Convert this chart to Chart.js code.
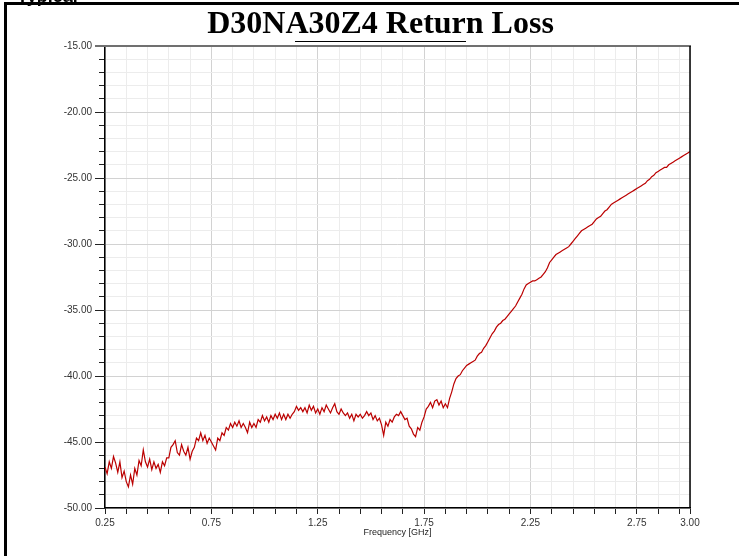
<!DOCTYPE html>
<html>
<head>
<meta charset="utf-8">
<script src="https://cdn.jsdelivr.net/npm/chart.js@4/dist/chart.umd.min.js"></script>
<style>
  html, body { margin: 0; padding: 0; background: #fff; }
  canvas { display: block; }
</style>
</head>
<body>
<canvas id="rlChart" width="739" height="556"></canvas>
<script>
// frequency grid of the sweep (GHz)
const freqStart = 0.25;
const freqStep = 0.01;

// return loss in dB, one value per 0.01 GHz from 0.25 to 3.00
const returnLossDb = [
  -46.9, -47.4, -46.5, -47.0, -46.1, -46.6, -47.3, -46.5, -47.7, -47.2,
  -48.0, -48.4, -47.5, -48.2, -47.0, -47.5, -46.4, -46.8, -45.6, -46.5,
  -46.9, -46.3, -47.1, -46.5, -47.0, -46.7, -47.3, -46.5, -46.8, -46.2,
  -46.2, -45.4, -45.2, -44.9, -45.8, -46.0, -45.2, -45.7, -46.0, -45.4,
  -46.3, -45.7, -45.4, -44.7, -44.9, -44.3, -44.9, -44.5, -45.1, -44.7,
  -45.0, -45.3, -45.6, -44.7, -44.9, -44.3, -44.5, -43.9, -44.1, -43.6,
  -43.9, -43.5, -43.8, -43.4, -43.9, -43.6, -43.9, -44.3, -43.5, -43.9,
  -43.6, -43.9, -43.3, -43.5, -43.0, -43.4, -43.1, -43.5, -43.0, -43.3,
  -42.9, -43.2, -42.8, -43.3, -42.9, -43.3, -42.9, -43.2, -42.9, -42.7,
  -42.3, -42.6, -42.4, -42.7, -42.4, -42.8, -42.2, -42.6, -42.3, -42.8,
  -42.5, -42.9, -42.4, -42.7, -42.2, -42.5, -42.8, -42.4, -42.1, -42.7,
  -42.9, -42.5, -42.8, -43.0, -42.8, -43.2, -42.9, -43.4, -42.9, -43.1,
  -42.9, -43.2, -43.0, -42.7, -43.0, -42.8, -43.3, -43.0, -43.4, -43.2,
  -43.7, -44.5, -43.5, -43.8, -43.3, -43.5, -43.1, -42.9, -43.0, -42.7,
  -43.0, -43.3, -43.2, -43.8, -44.0, -44.4, -44.6, -43.9, -44.1, -43.5,
  -43.1, -42.5, -42.3, -42.0, -42.4, -41.9, -41.8, -42.2, -41.9, -42.4,
  -42.1, -42.4, -41.7, -41.2, -40.6, -40.2, -40.0, -39.9, -39.6, -39.4,
  -39.2, -39.1, -39.0, -38.9, -38.8, -38.5, -38.3, -38.2, -37.9, -37.7,
  -37.4, -37.1, -36.8, -36.6, -36.3, -36.1, -36.0, -35.8, -35.7, -35.5,
  -35.3, -35.1, -34.9, -34.7, -34.4, -34.1, -33.8, -33.4, -33.1, -33.0,
  -32.9, -32.8, -32.8, -32.7, -32.6, -32.5, -32.3, -32.1, -31.8, -31.4,
  -31.2, -31.0, -30.8, -30.7, -30.6, -30.5, -30.4, -30.3, -30.2, -30.0,
  -29.8, -29.6, -29.4, -29.2, -29.0, -28.9, -28.8, -28.7, -28.6, -28.5,
  -28.3, -28.1, -28.0, -27.9, -27.7, -27.5, -27.4, -27.2, -27.0, -26.9,
  -26.8, -26.7, -26.6, -26.5, -26.4, -26.3, -26.2, -26.1, -26.0, -25.9,
  -25.8, -25.7, -25.6, -25.5, -25.4, -25.2, -25.1, -24.9, -24.8, -24.6,
  -24.5, -24.4, -24.3, -24.2, -24.2, -24.0, -23.9, -23.8, -23.7, -23.6,
  -23.5, -23.4, -23.3, -23.2, -23.1, -23.0
];

// labelled ticks
const xTickLabels = [0.25, 0.75, 1.25, 1.75, 2.25, 2.75, 3.00];
const yTickLabels = [-15, -20, -25, -30, -35, -40, -45, -50];

const xMin = 0.25, xMax = 3.00, xMinorStep = 0.1;
const yMin = -50, yMax = -15, yMinorStep = 1;

const points = returnLossDb.map((v, i) => ({ x: +(freqStart + i * freqStep).toFixed(2), y: v }));

function isLabelX(v) {
  return xTickLabels.some(t => Math.abs(t - v) < 1e-6);
}
function isLabelY(v) {
  return yTickLabels.some(t => Math.abs(t - v) < 1e-6);
}

// frame, title and plot borders
const decor = {
  id: 'decor',
  beforeDraw(chart) {
    const c = chart.ctx;
    c.save();
    c.fillStyle = '#fff';
    c.fillRect(0, 0, chart.width, chart.height);
    c.restore();
  },
  afterDatasetsDraw(chart) {
    const c = chart.ctx;
    const a = chart.chartArea;
    const ys = chart.scales.y;
    c.save();
    // longer tick marks on the labelled y values
    c.strokeStyle = '#222';
    c.lineWidth = 1;
    yTickLabels.forEach(v => {
      const py = Math.round(ys.getPixelForValue(v)) + 0.5;
      c.beginPath();
      c.moveTo(a.left - 10, py);
      c.lineTo(a.left, py);
      c.stroke();
    });
    // top border of plot (grey) and right border (black)
    c.strokeStyle = '#707070';
    c.lineWidth = 2;
    c.beginPath();
    c.moveTo(a.left - 10, a.top);
    c.lineTo(a.right + 1, a.top);
    c.stroke();
    c.strokeStyle = '#000';
    c.lineWidth = 1.5;
    c.beginPath();
    c.moveTo(a.right, a.top);
    c.lineTo(a.right, a.bottom);
    c.stroke();

    // outer frame
    c.fillStyle = '#000';
    c.fillRect(4, 2, chart.width - 4, 3);
    c.fillRect(4, 2, 3, chart.height - 2);

    // clipped heading left over at the very top
    c.font = 'bold 18px "Liberation Sans", Arial, sans-serif';
    c.textAlign = 'left';
    c.textBaseline = 'alphabetic';
    c.fillText('Typical', 17, 2);

    // title
    c.font = 'bold 32px "Liberation Serif", "Times New Roman", serif';
    c.textAlign = 'center';
    c.fillText('D30NA30Z4 Return Loss', 380.5, 33);
    c.strokeStyle = '#000';
    c.lineWidth = 1;
    c.beginPath();
    c.moveTo(295, 41.5);
    c.lineTo(466, 41.5);
    c.stroke();
    c.restore();
  }
};

const ctx = document.getElementById('rlChart');
new Chart(ctx, {
  type: 'line',
  data: {
    datasets: [{
      label: 'Return Loss',
      data: points,
      borderColor: '#bb0000',
      borderWidth: 1.2,
      pointRadius: 0,
      tension: 0,
      fill: false
    }]
  },
  options: {
    responsive: false,
    animation: false,
    devicePixelRatio: 1,
    layout: { padding: { top: 46, right: 49, left: 0, bottom: 18 } },
    plugins: {
      legend: { display: false },
      title: { display: false },
      tooltip: { enabled: false }
    },
    scales: {
      x: {
        type: 'linear',
        min: xMin,
        max: xMax,
        afterBuildTicks(scale) {
          const t = [];
          for (let v = xMin; v < xMax - 1e-6; v += xMinorStep) t.push({ value: +v.toFixed(2) });
          t.push({ value: xMax });
          scale.ticks = t;
        },
        afterFit(scale) { scale.height = 30; },
        border: { color: '#000', width: 1.5 },
        grid: {
          color: c => isLabelX(c.tick.value) ? '#d2d2d2' : '#ececec',
          lineWidth: 1,
          tickColor: '#222',
          tickLength: 6
        },
        ticks: {
          autoSkip: false,
          maxRotation: 0,
          padding: 3,
          color: '#333',
          font: { family: '"Liberation Sans", Arial, sans-serif', size: 10 },
          callback: v => isLabelX(v) ? v.toFixed(2) : ''
        },
        title: {
          display: true,
          text: 'Frequency [GHz]',
          color: '#222',
          padding: { top: 0, bottom: 0 },
          font: { family: '"Liberation Sans", Arial, sans-serif', size: 9 }
        }
      },
      y: {
        min: yMin,
        max: yMax,
        afterBuildTicks(scale) {
          const t = [];
          for (let v = yMin; v <= yMax; v += yMinorStep) t.push({ value: v });
          scale.ticks = t;
        },
        afterFit(scale) { scale.width = 105; },
        border: { color: '#000', width: 1.5 },
        grid: {
          color: c => isLabelY(c.tick.value) ? '#d2d2d2' : '#ececec',
          lineWidth: 1,
          tickColor: '#222',
          tickLength: 6
        },
        ticks: {
          autoSkip: false,
          padding: 7,
          color: '#333',
          font: { family: '"Liberation Sans", Arial, sans-serif', size: 10 },
          callback: v => isLabelY(v) ? v.toFixed(2) : ''
        }
      }
    }
  },
  plugins: [decor]
});
</script>
</body>
</html>
